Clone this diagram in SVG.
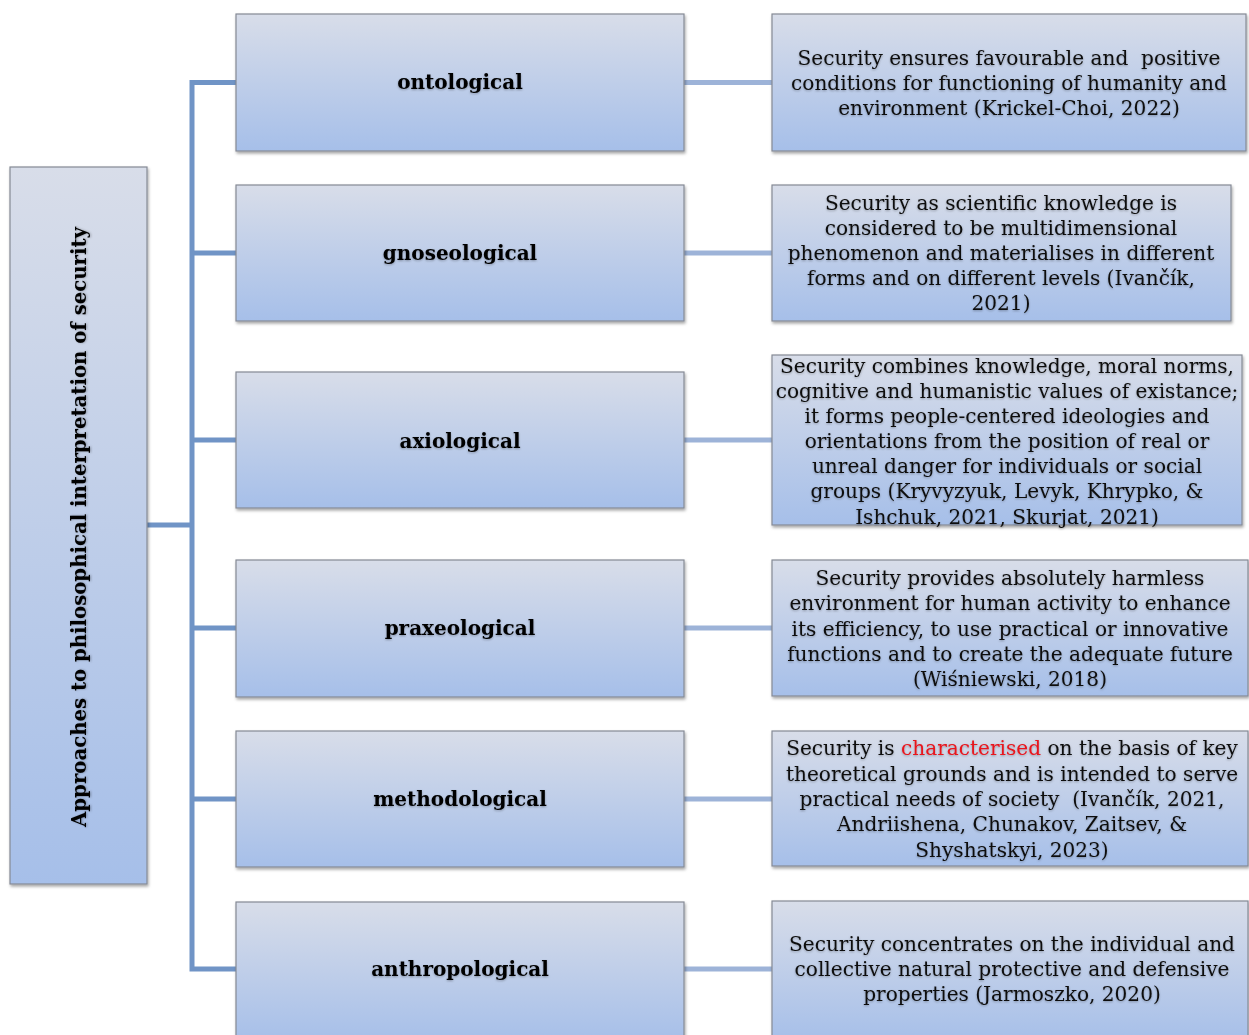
<svg xmlns="http://www.w3.org/2000/svg" width="1249" height="1035" viewBox="0 0 1249 1035">
<defs>
<linearGradient id="g" x1="0" y1="0" x2="0" y2="1">
<stop offset="0" stop-color="#d8dde9"/>
<stop offset="1" stop-color="#a6bfe9"/>
</linearGradient>
<filter id="sh" x="-5%" y="-5%" width="110%" height="115%">
<feDropShadow dx="1" dy="2" stdDeviation="1.5" flood-color="#000" flood-opacity="0.35"/>
</filter>
<filter id="ts" x="-5%" y="-20%" width="110%" height="140%">
<feDropShadow dx="0" dy="1" stdDeviation="1.2" flood-color="#000" flood-opacity="0.3"/>
</filter>
</defs>
<style>
.box{fill:url(#g);stroke:#858a95;stroke-width:1.2;filter:url(#sh)}
.lbl{font-family:"DejaVu Serif","Liberation Serif",serif;font-size:20px;font-weight:bold;fill:#000;text-anchor:middle;filter:url(#ts)}
.dsc{font-family:"DejaVu Serif","Liberation Serif",serif;font-size:20.1px;fill:#111;text-anchor:middle;filter:url(#ts)}
.trunk{stroke:#7094c6;stroke-width:5;fill:none}
.rc{stroke:#9db3d8;stroke-width:5;fill:none}
</style>
<rect width="1249" height="1035" fill="#fff"/>
<g id="connectors">
<path class="trunk" d="M236 82.5H192V969H236"/>
<path class="trunk" d="M147 525H192M192 253H236M192 440H236M192 628H236M192 799H236"/>
<path class="rc" d="M684 82.5H772M684 253H772M684 440H772M684 628H772M684 799H772M684 969H772"/>
</g>
<g id="root">
<rect class="box" x="10" y="167" width="137" height="717"/>
<text class="lbl" style="font-size:19.7px" transform="translate(86,527) rotate(-90)">Approaches to philosophical interpretation of security</text>
</g>
<g id="ontological">
<rect class="box" x="236" y="14" width="448" height="137"/>
<text class="lbl" x="460" y="89">ontological</text>
</g>
<g id="gnoseological">
<rect class="box" x="236" y="185" width="448" height="136"/>
<text class="lbl" x="460" y="260">gnoseological</text>
</g>
<g id="axiological">
<rect class="box" x="236" y="372" width="448" height="136"/>
<text class="lbl" x="460" y="448">axiological</text>
</g>
<g id="praxeological">
<rect class="box" x="236" y="560" width="448" height="137"/>
<text class="lbl" x="460" y="635">praxeological</text>
</g>
<g id="methodological">
<rect class="box" x="236" y="731" width="448" height="136"/>
<text class="lbl" x="460" y="806">methodological</text>
</g>
<g id="anthropological">
<rect class="box" x="236" y="902" width="448" height="140"/>
<text class="lbl" x="460" y="976">anthropological</text>
</g>
<g id="d-ontological">
<rect class="box" x="772" y="14" width="474" height="137"/>
<text class="dsc" xml:space="preserve"><tspan x="1009" y="65">Security ensures favourable and  positive</tspan><tspan x="1009" y="90">conditions for functioning of humanity and</tspan><tspan x="1009" y="115">environment (Krickel-Choi, 2022)</tspan></text>
</g>
<g id="d-gnoseological">
<rect class="box" x="772" y="185" width="459" height="136"/>
<text class="dsc"><tspan x="1001" y="210">Security as scientific knowledge is</tspan><tspan x="1001" y="235">considered to be multidimensional</tspan><tspan x="1001" y="260">phenomenon and materialises in different</tspan><tspan x="1001" y="285">forms and on different levels (Ivančík,</tspan><tspan x="1001" y="310">2021)</tspan></text>
</g>
<g id="d-axiological">
<rect class="box" x="772" y="355" width="470" height="170"/>
<text class="dsc"><tspan x="1007" y="373">Security combines knowledge, moral norms,</tspan><tspan x="1007" y="398">cognitive and humanistic values of existance;</tspan><tspan x="1007" y="423">it forms people-centered ideologies and</tspan><tspan x="1007" y="448">orientations from the position of real or</tspan><tspan x="1007" y="473">unreal danger for individuals or social</tspan><tspan x="1007" y="498">groups (Kryvyzyuk, Levyk, Khrypko, &amp;</tspan><tspan x="1007" y="524">Ishchuk, 2021, Skurjat, 2021)</tspan></text>
</g>
<g id="d-praxeological">
<rect class="box" x="772" y="560" width="476" height="136"/>
<text class="dsc"><tspan x="1010" y="585">Security provides absolutely harmless</tspan><tspan x="1010" y="610">environment for human activity to enhance</tspan><tspan x="1010" y="636">its efficiency, to use practical or innovative</tspan><tspan x="1010" y="661">functions and to create the adequate future</tspan><tspan x="1010" y="686">(Wiśniewski, 2018)</tspan></text>
</g>
<g id="d-methodological">
<rect class="box" x="772" y="731" width="476" height="135"/>
<text class="dsc" xml:space="preserve"><tspan x="1012" y="755">Security is <tspan fill="#e8141c">characterised</tspan> on the basis of key</tspan><tspan x="1012" y="781">theoretical grounds and is intended to serve</tspan><tspan x="1012" y="806">practical needs of society  (Ivančík, 2021,</tspan><tspan x="1012" y="831">Andriishena, Chunakov, Zaitsev, &amp;</tspan><tspan x="1012" y="857">Shyshatskyi, 2023)</tspan></text>
</g>
<g id="d-anthropological">
<rect class="box" x="772" y="901" width="476" height="141"/>
<text class="dsc"><tspan x="1012" y="951">Security concentrates on the individual and</tspan><tspan x="1012" y="976">collective natural protective and defensive</tspan><tspan x="1012" y="1001">properties (Jarmoszko, 2020)</tspan></text>
</g>
</svg>
